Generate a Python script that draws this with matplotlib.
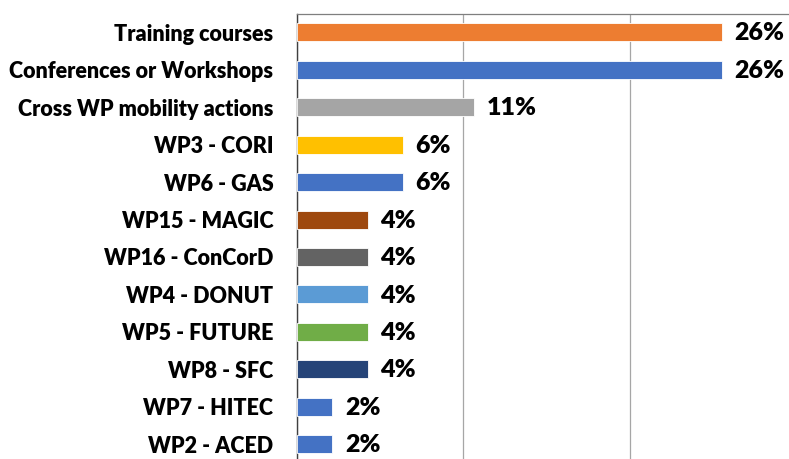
"""
Horizontal bar chart: share of mobility/training actions by category.
"""

import matplotlib.pyplot as plt
import numpy as np

# Categories, top to bottom
categories = [
    'Training courses', 'Conferences or Workshops', 'Cross WP mobility actions',
    'WP3 - CORI', 'WP6 - GAS', 'WP15 - MAGIC', 'WP16 - ConCorD',
    'WP4 - DONUT', 'WP5 - FUTURE', 'WP8 - SFC', 'WP7 - HITEC', 'WP2 - ACED',
]
# counts (47 in total)
counts = [12, 12, 5, 3, 3, 2, 2, 2, 2, 2, 1, 1]
bar_colors = [
    '#ED7D31', '#4472C4', '#A5A5A5', '#FFC000', '#4472C4', '#9E480E',
    '#636363', '#5B9BD5', '#70AD47', '#264478', '#4472C4', '#4472C4',
]
x_ticks = [0.0, 0.1, 0.2, 0.3]

shares = np.array(counts) / sum(counts)

plt.rcParams['font.family'] = ['Lato', 'DejaVu Sans']

fig = plt.figure(figsize=(7.89, 4.59), dpi=100)
W, H = 789, 459
left, right = 297, 796
top, bottom = 13.5, 463
ax = fig.add_axes([left / W, (H - bottom) / H, (right - left) / W, (bottom - top) / H])

y = np.arange(len(categories))
ax.barh(y, shares, height=0.48, color=bar_colors, edgecolor='white',
        linewidth=0.6, zorder=3)

# value labels just right of each bar
for yi, s in zip(y, shares):
    ax.text(s + 0.0075, yi + 0.03, f'{s * 100:.0f}%', va='center', ha='left',
            fontsize=18, fontweight='heavy', color='black', zorder=4)

ax.set_ylim(len(categories) - 0.5, -0.5)
ax.set_xlim(x_ticks[0], x_ticks[-1])
ax.set_xticks(x_ticks)
ax.set_xticklabels([])
ax.tick_params(axis='x', length=0)
ax.set_yticks(y)
ax.set_yticklabels(categories, fontsize=15.5, fontweight='heavy')
ax.tick_params(axis='y', length=0, pad=17)

ax.grid(axis='x', color='#A6A6A6', linewidth=0.9, zorder=0)
for side in ['top', 'right']:
    ax.spines[side].set_color('#7F7F7F')
    ax.spines[side].set_linewidth(0.9)
ax.spines['bottom'].set_visible(False)
ax.spines['left'].set_color('#404040')
ax.spines['left'].set_linewidth(1.0)
ax.spines['left'].set_zorder(2)

fig.savefig('out.png', dpi=100)
